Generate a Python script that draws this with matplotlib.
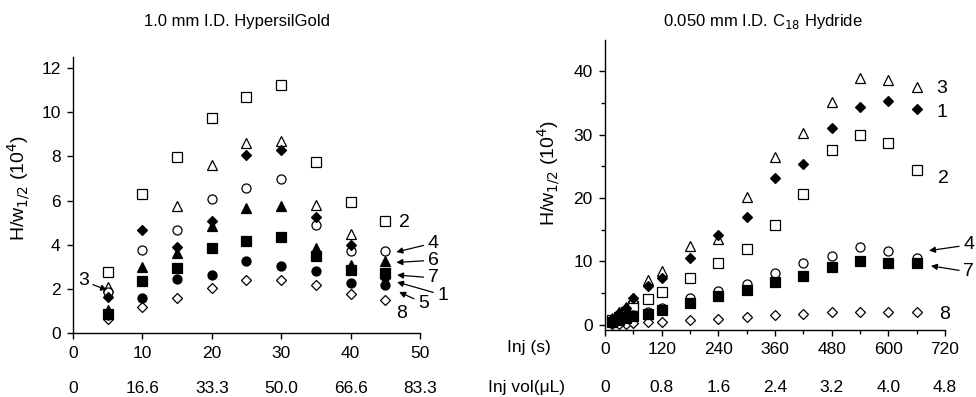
import numpy as np
import matplotlib.pyplot as plt
from matplotlib.transforms import blended_transform_factory

plt.rcParams["font.family"] = ["Liberation Sans", "DejaVu Sans"]

# left panel: 1.0 mm I.D. HypersilGold
left_x = [5, 10, 15, 20, 25, 30, 35, 40, 45]
left_vals = {
    "2": [2.75, 6.3, 7.97, 9.75, 10.69, 11.23, 7.73, 5.92, 5.06],
    "3": [2.1, np.nan, 5.74, 7.6, 8.63, 8.68, 5.81, 4.48, np.nan],
    "4": [1.85, 3.75, 4.68, 6.07, 6.57, 6.99, 4.88, 3.74, 3.7],
    "8": [0.65, 1.2, 1.58, 2.04, 2.42, 2.42, 2.16, 1.78, 1.51],
    "6": [1.05, 3.0, 3.62, 4.83, 5.66, 5.74, 3.85, 3.09, 3.25],
    "7": [0.85, 2.35, 2.94, 3.85, 4.15, 4.35, 3.47, 2.87, 2.7],
    "5": [0.8, 1.6, 2.45, 2.64, 3.28, 3.05, 2.79, 2.26, 2.2],
    "1": [1.65, 4.65, 3.9, 5.1, 8.05, 8.3, 5.25, 3.97, 2.5],
}
left_x2_labels = ["0", "16.6", "33.3", "50.0", "66.6", "83.3"]

# right panel: 0.050 mm I.D. C18 Hydride
right_x = [15, 30, 45, 60, 90, 120, 180, 240, 300, 360, 420, 480, 540, 600, 660]
right_vals = {
    "2": [0.7, 1.3, 2.0, 3.0, 4.1, 5.1, 7.4, 9.8, 12.0, 15.7, 20.6, 27.6, 30.0, 28.7, 24.4],
    "3": [1.0, 2.0, 2.8, 4.3, 7.0, 8.5, 12.5, 13.5, 20.2, 26.5, 30.3, 35.1, 38.9, 38.6, 37.5],
    "4": [0.5, 0.9, 1.2, 1.6, 2.0, 2.6, 4.2, 5.4, 6.4, 8.2, 9.7, 10.9, 12.2, 11.7, 10.6],
    "8": [0.1, 0.15, 0.2, 0.3, 0.4, 0.5, 0.7, 0.95, 1.2, 1.5, 1.7, 2.0, 2.0, 2.0, 2.0],
    "7": [0.5, 0.8, 1.1, 1.4, 1.7, 2.4, 3.4, 4.6, 5.5, 6.8, 7.7, 9.1, 10.0, 9.7, 9.7],
    "1": [0.9, 1.8, 2.6, 4.3, 6.1, 7.4, 10.5, 14.2, 17.0, 23.2, 25.3, 31.1, 34.3, 35.3, 34.1],
}
right_x2_labels = ["0", "0.8", "1.6", "2.4", "3.2", "4.0", "4.8"]

styles = {
    "1": ("D", "black", 5.5),
    "2": ("s", "white", 6.5),
    "3": ("^", "white", 7),
    "4": ("o", "white", 6.5),
    "5": ("o", "black", 6.5),
    "6": ("^", "black", 7),
    "7": ("s", "black", 6.5),
    "8": ("D", "white", 5.5),
}

fig = plt.figure(figsize=(9.76, 3.97), dpi=100)
ax1 = fig.add_axes([0.0748, 0.161, 0.3555, 0.695])
ax2 = fig.add_axes([0.6199, 0.169, 0.3484, 0.730])


def draw(ax, xs, vals):
    for key, ys in vals.items():
        m, fc, ms = styles[key]
        ax.plot(xs, ys, linestyle="none", marker=m, ms=ms, mfc=fc, mec="black",
                mew=0.9, clip_on=False)


def style_axes(ax):
    for s in ["top", "right"]:
        ax.spines[s].set_visible(False)
    for s in ["left", "bottom"]:
        ax.spines[s].set_linewidth(1.0)
    ax.tick_params(which="major", direction="out", length=4, width=1.0,
                   labelsize=12.5, pad=5)
    ax.tick_params(which="minor", direction="out", length=3, width=1.0)
    ax.set_ylabel("H/w$_{1/2}$ (10$^4$)", fontsize=14)


draw(ax1, left_x, left_vals)
style_axes(ax1)
ax1.set_xlim(0, 50)
ax1.set_ylim(0, 12.5)
ax1.set_xticks(np.arange(0, 51, 10))
ax1.set_yticks(np.arange(0, 13, 2))
ax1.yaxis.set_label_coords(-0.118, 0.525)
tr1 = blended_transform_factory(ax1.transData, ax1.transAxes)
for xv, lab in zip(np.arange(0, 51, 10), left_x2_labels):
    ax1.text(xv, -0.2, lab, transform=tr1, ha="center", va="center", fontsize=12.5)

fig.text(0.243, 0.945, "1.0 mm I.D. HypersilGold", ha="center", va="center",
         fontsize=12)
fig.text(0.782, 0.945, "0.050 mm I.D. C$_{18}$ Hydride", ha="center", va="center",
         fontsize=12)

ann_kw = dict(fontsize=14, ha="center", va="center", annotation_clip=False)
arrow = dict(arrowstyle="-|>", color="black", lw=0.9, mutation_scale=9,
             shrinkA=1, shrinkB=0)
ax1.annotate("2", (47.8, 5.03), **ann_kw)
ax1.annotate("8", (47.4, 0.9), **ann_kw)
for lab, txt, tip in [("4", (51.9, 4.08), (46.6, 3.67)),
                      ("6", (51.9, 3.3), (46.6, 3.2)),
                      ("7", (51.9, 2.5), (46.7, 2.63)),
                      ("1", (53.3, 1.72), (46.7, 2.31)),
                      ("5", (50.5, 1.36), (47.0, 1.86)),
                      ("3", (1.5, 2.36), (4.9, 1.95))]:
    ax1.annotate(lab, tip, xytext=txt, arrowprops=arrow, **ann_kw)

draw(ax2, right_x, right_vals)
style_axes(ax2)
ax2.set_xlim(0, 720)
ax2.set_ylim(-0.8, 44.9)
ax2.set_xticks(np.arange(0, 721, 120))
ax2.set_xticks(np.arange(0, 721, 60), minor=True)
ax2.set_yticks(np.arange(0, 41, 10))
ax2.set_yticks(np.arange(0, 45, 5), minor=True)
ax2.yaxis.set_label_coords(-0.126, 0.54)
tr2 = blended_transform_factory(ax2.transData, ax2.transAxes)
for xv, lab in zip(np.arange(0, 721, 120), right_x2_labels):
    ax2.text(xv, -0.2, lab, transform=tr2, ha="center", va="center", fontsize=12.5)
ax2.text(-0.225, -0.06, "Inj (s)", transform=ax2.transAxes, ha="center",
         va="center", fontsize=12.5)
ax2.text(-0.23, -0.2, "Inj vol(μL)", transform=ax2.transAxes, ha="center",
         va="center", fontsize=12.5)

ax2.annotate("3", (713.6, 37.3), **ann_kw)
ax2.annotate("1", (713.6, 33.5), **ann_kw)
ax2.annotate("2", (715.8, 23.1), **ann_kw)
ax2.annotate("8", (720, 1.57), **ann_kw)
ax2.annotate("4", (686, 11.7), xytext=(770, 12.6), arrowprops=arrow, **ann_kw)
ax2.annotate("7", (690, 9.3), xytext=(770, 8.35), arrowprops=arrow, **ann_kw)

fig.savefig("out.png", dpi=100)
